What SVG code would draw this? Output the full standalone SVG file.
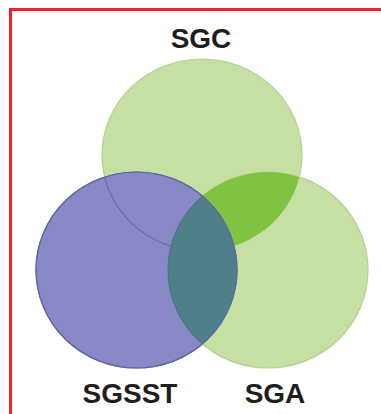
<svg xmlns="http://www.w3.org/2000/svg" width="381" height="414" viewBox="0 0 381 414">
  <style>
    .lbl { font-family: "Liberation Sans", Arial, sans-serif; font-weight: bold; font-size: 28px; fill: #1e1e1e; text-anchor: middle; }
    .green { fill: #c6e0a3; stroke: #b2d18f; stroke-width: 1.2; }
    .blue { fill: #8888c6; stroke: #6b6ba8; stroke-width: 1.2; }
  </style>
  <defs>
    <clipPath id="clipSGA"><ellipse cx="268" cy="270" rx="100" ry="98"/></clipPath>
    <clipPath id="clipSGSST"><ellipse cx="136.5" cy="270" rx="100.5" ry="98"/></clipPath>
  </defs>
  <rect width="381" height="414" fill="#ffffff"/>
  <path d="M10.5,414 V9.5 H381" fill="none" stroke="#f0202a" stroke-width="3"/>

  <g id="SGC">
    <ellipse class="green" cx="202" cy="155" rx="100" ry="96"/>
    <text class="lbl" x="201" y="48">SGC</text>
  </g>
  <g id="SGA">
    <ellipse class="green" cx="268" cy="270" rx="100" ry="98"/>
    <ellipse cx="202" cy="155" rx="100" ry="96" fill="#80c342" clip-path="url(#clipSGA)"/>
    <text class="lbl" x="275" y="403">SGA</text>
  </g>
  <g id="SGSST">
    <ellipse class="blue" cx="136.5" cy="270" rx="100.5" ry="98"/>
    <ellipse cx="202" cy="155" rx="100" ry="96" fill="none" stroke="#6a6aa6" stroke-width="1.2" clip-path="url(#clipSGSST)"/>
    <ellipse cx="268" cy="270" rx="100" ry="98" fill="#4f8089" stroke="#45737c" stroke-width="1" clip-path="url(#clipSGSST)"/>
    <ellipse cx="136.5" cy="270" rx="100.5" ry="98" fill="none" stroke="#5d6aa0" stroke-width="1.2"/>
    <text class="lbl" x="130" y="403">SGSST</text>
  </g>
</svg>
